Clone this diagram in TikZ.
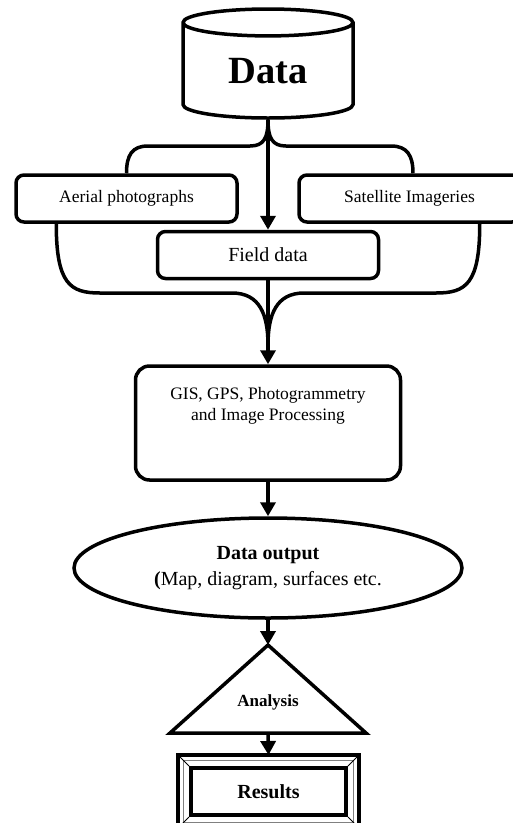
\documentclass[tikz,border=0pt]{standalone}
\usepackage{fontspec}
\setmainfont{Liberation Serif}
\usetikzlibrary{shapes.geometric,arrows.meta}
\begin{document}
\begin{tikzpicture}[x=1pt,y=-1pt,line width=3.5pt,
    box/.style={draw,rounded corners=8pt,minimum width=221pt,minimum height=47pt,inner sep=0pt},
    flow/.style={-{Triangle[width=15pt,length=14pt]}},
    txt/.style={font=\fontsize{17.5}{21}\selectfont,align=center}]
  \useasboundingbox (0,0) rectangle (513,823);

  % sources
  \node[draw,cylinder,shape border rotate=90,aspect=0.34,minimum width=170pt,minimum height=109pt,inner sep=0pt,
        anchor=shape center,font=\fontsize{38.5}{40}\selectfont\bfseries] (data) at (268,63.5) {Data};
  \node[box,txt] (aerial) at (126.5,198.5) {Aerial photographs};
  \node[box,txt] (satellite) at (409.5,198.5) {Satellite Imageries};
  \node[box,txt,font=\fontsize{20}{24}\selectfont] (field) at (268,255) {Field data};

  % processing
  \node[draw,rounded corners=14pt,minimum width=265pt,minimum height=114pt] (gis) at (268,423) {};
  \node[txt] (gistext) at (268,406) {GIS, GPS, Photogrammetry\\and Image Processing};
  \node[draw,ellipse,minimum width=388pt,minimum height=100pt,inner sep=0pt,align=center,
        font=\fontsize{20}{26}\selectfont] (output) at (268,568)
        {\textbf{Data output}\\\textbf{(}Map, diagram, surfaces etc.};

  % analysis triangle
  \coordinate (tip) at (268,645);
  \coordinate (tl) at (170,733);
  \coordinate (tr) at (366,733);
  \coordinate (base) at (268,733);
  \draw (tip) -- (tr) -- (tl) -- cycle;
  \node[font=\fontsize{17}{20}\selectfont\bfseries] (analysis) at (268,702) {Analysis};

  % results frame
  \node[draw,line width=4pt,minimum width=155pt,minimum height=47pt,inner sep=0pt,
        font=\fontsize{20}{24}\selectfont\bfseries] (results) at (268.5,791.5) {Results};
  \coordinate (resultstop) at ([yshift=11pt]results.north);
  \draw ([shift={(-11pt,11pt)}]results.north west) rectangle ([shift={(11pt,-11pt)}]results.south east);
  \draw[gray,line width=1pt] ([shift={(-5.5pt,5.5pt)}]results.north west) rectangle ([shift={(5.5pt,-5.5pt)}]results.south east);
  \draw[line width=1pt] (results.north west) -- +(-11pt,11pt)
                        (results.north east) -- +(11pt,11pt)
                        (results.south west) -- +(-11pt,-11pt)
                        (results.south east) -- +(11pt,-11pt);

  % braces
  \draw (data.south) .. controls +(0,18) and +(14,0) .. (250,146) -- (148,146)
        .. controls +(-16,0) and +(0,-18) .. (aerial.north);
  \draw (data.south) .. controls +(0,18) and +(-14,0) .. (286,146) -- (391,146)
        .. controls +(16,0) and +(0,-18) .. ([xshift=3.5pt]satellite.north);
  \coordinate (merge) at (268,345);
  \draw ([xshift=42pt]aerial.south west) .. controls +(0,60) and +(-30,0) .. (100,293) -- (232,293)
        .. controls +(28,0) and +(0,-30) .. (merge);
  \draw ([xshift=-42pt]satellite.south east) .. controls +(0,60) and +(30,0) .. (436,293) -- (304,293)
        .. controls +(-28,0) and +(0,-30) .. (merge);

  % arrows
  \draw[flow] (data.south) -- (data.south |- field.north);
  \draw[flow] (field.south) -- (gis.north);
  \draw[flow] (gis.south) -- (output.north);
  \draw[flow] (output.south) -- (tip);
  \draw[flow] (base) -- (resultstop);
\end{tikzpicture}
\end{document}
